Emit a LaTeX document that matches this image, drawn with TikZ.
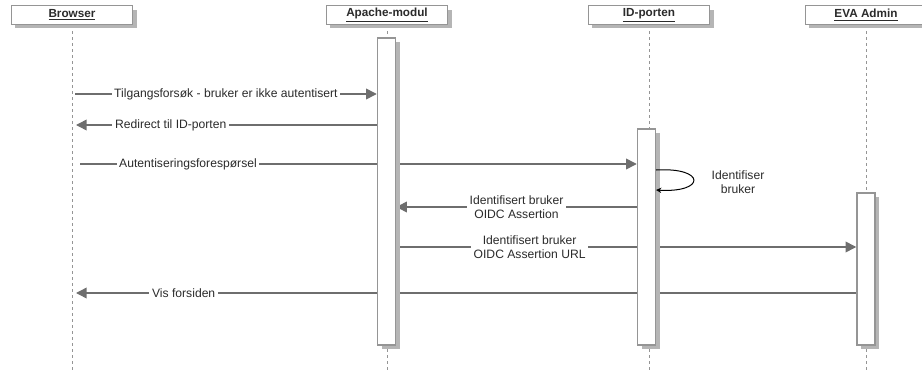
\documentclass[tikz,border=0pt]{standalone}
\usepackage{fontspec}
\setmainfont{Liberation Sans}
\usetikzlibrary{arrows.meta, shadows}
\definecolor{linegray}{HTML}{6E6E6E}
\definecolor{boxgray}{HTML}{959595}
\definecolor{shadowgray}{HTML}{B5B5B5}
\definecolor{textgray}{HTML}{2B2B2B}
\pgfdeclarelayer{back}
\pgfsetlayers{back,main}
\begin{document}
\begin{tikzpicture}[x=0.75pt, y=-0.75pt, font=\fontsize{9.1}{10.5}\selectfont, text=textgray,
    head/.style={draw=boxgray, line width=1.1pt, fill=white, minimum width=91pt, minimum height=14pt, inner sep=0pt, font=\fontsize{8.8}{10}\selectfont\bfseries, general shadow={fill=shadowgray, shadow xshift=3pt, shadow yshift=-3pt}},
    act/.style={draw=boxgray, line width=1.1pt, fill=white, minimum width=13.5pt, inner sep=0pt, general shadow={fill=shadowgray, shadow xshift=3pt, shadow yshift=-3pt}},
    life/.style={draw=boxgray, line width=0.75pt, dash pattern=on 2.5pt off 2pt},
    msg/.style={draw=linegray, line width=1.1pt, -{Triangle[length=8pt, width=8pt]}},
    lbl/.style={fill=white, inner sep=2pt, align=center}]
    \useasboundingbox (0,0) rectangle (922,371);
    \coordinate (bottom) at (0,371);

    % Participants
    \node[head] (browser) at (72, 15) {\underline{Browser}};
    \node[head] (apache) at (387, 15) {\underline{Apache-modul}};
    \node[head] (idporten) at (649, 15) {\underline{ID-porten}};
    \node[head] (eva) at (866, 15) {\underline{EVA Admin}};

    % Activations
    \node[act, minimum height=230pt] (actA) at (386.5, 191.5) {};
    \node[act, minimum height=162pt] (actI) at (646.5, 237) {};
    \node[act, minimum height=114pt] (actE) at (866, 269) {};

    \begin{pgfonlayer}{back}
        % Lifelines
        \draw[life] (browser.south) -- (browser.south |- bottom);
        \draw[life] (apache.south) -- (apache.south |- bottom);
        \draw[life] (idporten.south) -- (idporten.south |- bottom);
        \draw[life] (eva.south) -- (eva.south |- bottom);

        % Messages
        \coordinate (m1) at (75, 94);
        \draw[msg] (m1) -- node[lbl] {Tilgangsforsøk - bruker er ikke autentisert} (m1 -| actA.west);
        \coordinate (m2) at (76, 125);
        \draw[msg] (m2 -| actA.west) -- node[lbl, pos=0.685] {Redirect til ID-porten} (m2);
        \coordinate (m3) at (80, 164);
        \draw[msg] (m3) -- node[lbl, pos=0.194] {Autentiseringsforespørsel} (m3 -| actI.west);
        \coordinate (m5) at (0, 207);
        \draw[msg] (m5 -| actI.west) -- node[lbl] {Identifisert bruker\\OIDC Assertion} (m5 -| actA.east);
        \coordinate (m6) at (0, 247);
        \draw[msg] (m6 -| actA.east) -- node[lbl, pos=0.29] {Identifisert bruker\\OIDC Assertion URL} (m6 -| actE.west);
        \coordinate (m7) at (76, 293);
        \draw[msg] (m7 -| actE.west) -- node[lbl, pos=0.862] {Vis forsiden} (m7);
    \end{pgfonlayer}

    % Self call
    \coordinate (selfA) at (656, 170);
    \coordinate (selfB) at (656, 190);
    \draw[-{Stealth[length=4pt, width=4pt]}, line width=0.75pt] (selfA) .. controls (706, 167) and (706, 193) .. (selfB);
    \node[align=center] (selflbl) at (738, 182) {Identifiser\\bruker};
\end{tikzpicture}
\end{document}
